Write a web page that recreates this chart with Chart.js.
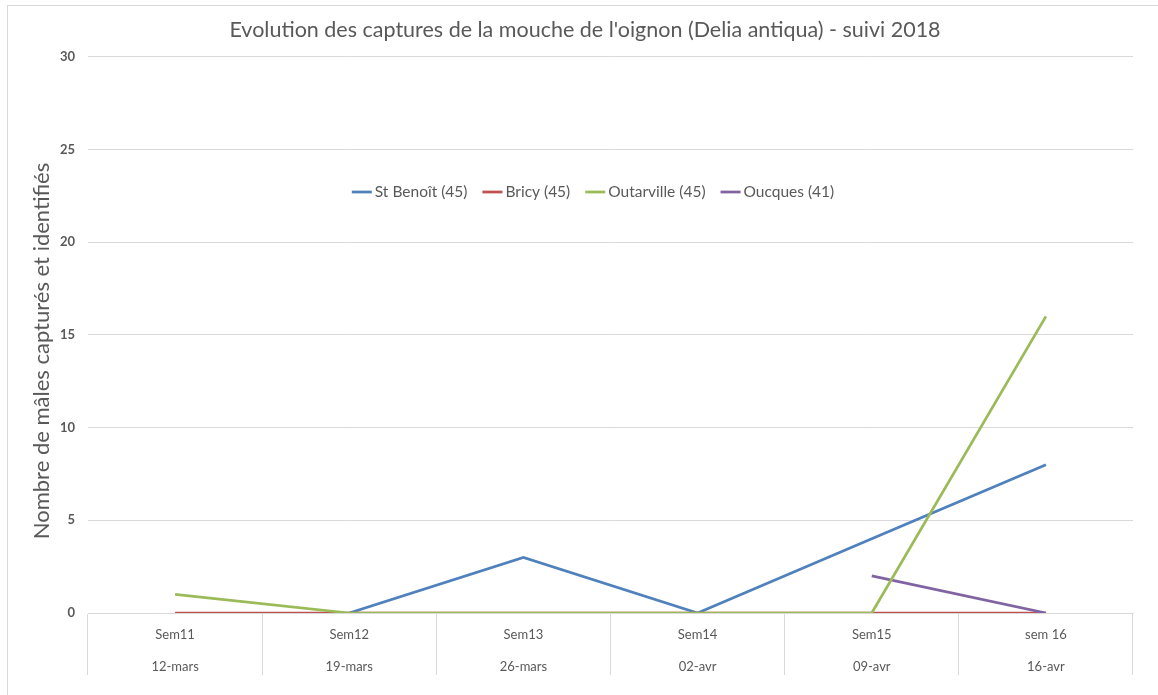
<!DOCTYPE html>
<html>
<head>
<meta charset="utf-8">
<script src="https://cdn.jsdelivr.net/npm/chart.js@4/dist/chart.umd.min.js"></script>
<style>
  html, body { margin: 0; padding: 0; background: #ffffff; overflow: hidden; }
  #wrap { position: relative; width: 1158px; height: 695px; }
  #frame { position: absolute; left: 7px; top: 5px; width: 1300px; height: 900px; border: 1px solid #d9d9d9; pointer-events: none; }
</style>
</head>
<body>
<div id="wrap">
  <canvas id="c" width="1158" height="695"></canvas>
  <div id="frame"></div>
</div>
<script>
// ---- data ----
const weeks = ['Sem11', 'Sem12', 'Sem13', 'Sem14', 'Sem15', 'sem 16'];
const dates = ['12-mars', '19-mars', '26-mars', '02-avr', '09-avr', '16-avr'];
const seriesNames = ['St Benoît (45)', 'Bricy (45)', 'Outarville (45)', 'Oucques (41)'];
const stBenoit = [null, 0, 3, 0, 4, 8];
const bricy = [0, 0, 0, 0, 0, 0];
const outarville = [1, 0, 0, 0, 0, 16];
const oucques = [null, null, null, null, 2, 0];
const yTicks = [0, 5, 10, 15, 20, 25, 30];
const yTitle = 'Nombre de mâles capturés et identifiés';

const FONT = 'Lato, "Open Sans", sans-serif';
const GREY = '#595959';
const GRID = '#d9d9d9';
const colors = ['#4f81bd', '#c0504d', '#9bbb59', '#8064a2'];

const labels = weeks.map((w, i) => [w, dates[i]]);
const values = [stBenoit, bricy, outarville, oucques];
const orders = [3, 2, 0, 1];

const datasets = seriesNames.map((name, i) => ({
  label: name,
  data: values[i],
  borderColor: colors[i],
  backgroundColor: colors[i],
  borderWidth: 2.75,
  pointRadius: 0,
  pointHoverRadius: 0,
  tension: 0,
  fill: false,
  spanGaps: false,
  order: orders[i]
}));

const extras = {
  id: 'extras',
  afterDraw(chart) {
    const ctx = chart.ctx;
    ctx.save();
    // legend inside the plot area
    ctx.font = '15.5px ' + FONT;
    ctx.textBaseline = 'middle';
    const lineLen = 20, gapLT = 3, gapItems = 15;
    const widths = chart.data.datasets.map(d => lineLen + gapLT + ctx.measureText(d.label).width);
    const total = widths.reduce((a, b) => a + b, 0) + gapItems * (widths.length - 1);
    let x = 593 - total / 2;
    const y = 192;
    chart.data.datasets.forEach((d, i) => {
      ctx.strokeStyle = d.borderColor;
      ctx.lineWidth = 2.75;
      ctx.beginPath();
      ctx.moveTo(x, y);
      ctx.lineTo(x + lineLen, y);
      ctx.stroke();
      ctx.fillStyle = GREY;
      ctx.fillText(d.label, x + lineLen + gapLT, y);
      x += widths[i] + gapItems;
    });
    // y-axis title
    ctx.translate(42, 351);
    ctx.rotate(-Math.PI / 2);
    ctx.font = '22px ' + FONT;
    ctx.textAlign = 'center';
    ctx.fillStyle = GREY;
    ctx.fillText(yTitle, 0, 0);
    ctx.restore();
  }
};

new Chart(document.getElementById('c'), {
  type: 'line',
  data: { labels, datasets },
  options: {
    responsive: false,
    animation: false,
    events: [],
    layout: { padding: { left: 37, right: 25, top: 0, bottom: 0 } },
    plugins: {
      legend: { display: false },
      tooltip: { enabled: false },
      title: {
        display: true,
        text: "Evolution des captures de la mouche de l'oignon (Delia antiqua) - suivi 2018",
        color: GREY,
        font: { family: FONT, size: 21.5, weight: 'normal' },
        padding: { top: 17, bottom: 14 }
      }
    },
    scales: {
      x: {
        offset: true,
        afterFit(scale) { scale.height = 82; },
        grid: {
          offset: true,
          drawOnChartArea: false,
          drawTicks: true,
          tickLength: 62,
          color: GRID,
          lineWidth: 1
        },
        border: { display: true, color: GRID, width: 1 },
        ticks: {
          color: GREY,
          font: { family: FONT, size: 13, lineHeight: 2.45 },
          padding: -56,
          maxRotation: 0,
          autoSkip: false
        }
      },
      y: {
        min: 0,
        max: 30,
        afterFit(scale) { scale.width = 51; },
        afterBuildTicks(scale) { scale.ticks = yTicks.map(v => ({ value: v })); },
        grid: { color: GRID, lineWidth: 1, drawTicks: false },
        border: { display: false },
        ticks: {
          color: GREY,
          font: { family: FONT, size: 13, weight: 'bold' },
          padding: 13
        }
      }
    }
  },
  plugins: [extras]
});
</script>
</body>
</html>
